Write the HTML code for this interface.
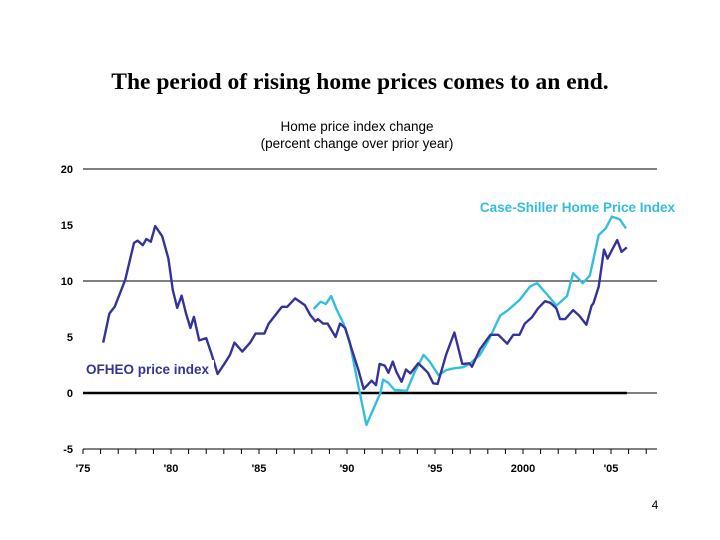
<!DOCTYPE html>
<html><head><meta charset="utf-8"><style>
html,body{margin:0;padding:0;background:#fff;}
svg{display:block;font-family:"Liberation Sans",Arial,sans-serif;}
</style></head><body>
<svg id="chart" width="720" height="540" viewBox="0 0 720 540" xmlns="http://www.w3.org/2000/svg">
<text x="360" y="89" text-anchor="middle" font-family="'Liberation Serif',serif" font-size="23.5" font-weight="bold" fill="#000">The period of rising home prices comes to an end.</text>
<text x="357" y="131" text-anchor="middle" font-size="13.5" fill="#000">Home price index change</text>
<text x="357" y="148" text-anchor="middle" font-size="13.5" fill="#000">(percent change over prior year)</text>
<g id="grid"></g>
<g id="axes"></g>
<g id="series"></g>
<text x="675" y="212" text-anchor="end" font-size="13.5" font-weight="bold" fill="#33bfdc">Case-Shiller Home Price Index</text>
<rect x="84" y="360" width="130" height="17" fill="#fff"/>
<text x="86" y="374" font-size="13.5" font-weight="bold" fill="#333399">OFHEO price index</text>
<text x="655" y="509" text-anchor="middle" font-size="12" fill="#000">4</text>
</svg>
<script>
const yTicks=[20,15,10,5,0,-5];
const yTickLabels=["20","15","10","5","0","-5"];
const gridValues=[20,10,0];
const xLabelYears=[1975,1980,1985,1990,1995,2000,2005];
const xLabels=["'75","'80","'85","'90","'95","2000","'05"];
const ofheoYears=[1976.15,1976.5,1976.8,1977.4,1977.9,1978.1,1978.4,1978.6,1978.85,1979.1,1979.5,1979.85,1980.1,1980.35,1980.6,1980.85,1981.1,1981.3,1981.6,1982.0,1982.3,1982.65,1983.05,1983.35,1983.6,1984.05,1984.5,1984.8,1985.3,1985.55,1985.8,1986.3,1986.6,1987.05,1987.6,1987.9,1988.2,1988.35,1988.65,1988.9,1989.35,1989.6,1989.9,1990.25,1990.65,1990.95,1991.4,1991.65,1991.85,1992.15,1992.35,1992.6,1992.8,1993.1,1993.35,1993.6,1994.05,1994.35,1994.6,1994.9,1995.15,1995.65,1996.1,1996.55,1996.95,1997.1,1997.55,1998.15,1998.6,1999.1,1999.45,1999.8,2000.1,2000.5,2000.85,2001.25,2001.55,2001.9,2002.1,2002.4,2002.85,2003.2,2003.6,2003.9,2004.0,2004.3,2004.6,2004.8,2005.35,2005.6,2005.9];
const ofheoValues=[4.5,7.1,7.7,10.1,13.4,13.6,13.2,13.75,13.5,14.9,14.0,12.0,9.2,7.6,8.7,7.1,5.8,6.8,4.7,4.9,3.5,1.7,2.65,3.4,4.5,3.7,4.5,5.3,5.3,6.2,6.7,7.7,7.7,8.45,7.85,7.0,6.4,6.6,6.2,6.2,5.0,6.2,5.8,4.0,2.05,0.35,1.1,0.7,2.6,2.45,1.8,2.8,1.9,1.0,2.1,1.75,2.65,2.2,1.8,0.87,0.8,3.5,5.4,2.6,2.65,2.35,3.9,5.2,5.2,4.4,5.2,5.2,6.2,6.75,7.55,8.2,8.05,7.55,6.6,6.6,7.4,6.9,6.1,7.8,8.0,9.5,12.8,12.0,13.65,12.6,13.0];
const csYears=[1988.1,1988.5,1988.8,1989.1,1989.4,1989.8,1990.15,1990.65,1991.1,1991.9,1992.05,1992.35,1992.7,1993.4,1993.85,1994.35,1994.7,1995.2,1995.65,1996.05,1996.6,1997.0,1997.55,1998.1,1998.7,1999.15,1999.8,2000.4,2000.8,2001.4,2001.9,2002.5,2002.85,2003.4,2003.8,2004.3,2004.7,2005.05,2005.5,2005.85];
const csValues=[7.5,8.15,7.95,8.65,7.5,6.2,4.6,0.6,-2.85,0.0,1.2,0.9,0.27,0.2,1.9,3.4,2.8,1.6,2.05,2.2,2.3,2.65,3.4,4.9,6.9,7.4,8.3,9.5,9.8,8.75,7.8,8.65,10.7,9.8,10.5,14.1,14.7,15.75,15.5,14.7];

const NS="http://www.w3.org/2000/svg";
const X0=83,X1=657,Y0=393,PX_PER_YEAR=17.6,PX_PER_UNIT=11.2;
function xS(yr){return X0+(yr-1975)*PX_PER_YEAR;}
function yS(v){return Y0-v*PX_PER_UNIT;}
function mk(tag,attrs,parent){const e=document.createElementNS(NS,tag);for(const k in attrs)e.setAttribute(k,attrs[k]);parent.appendChild(e);return e;}
const grid=document.getElementById('grid'),axes=document.getElementById('axes'),series=document.getElementById('series');

gridValues.forEach(v=>{
  const l=mk('line',{x1:X0,x2:X1,y1:yS(v),y2:yS(v),stroke:'#000','stroke-width':1},grid);
  
  
});
const zl=mk('line',{x1:X0,x2:xS(2005.9),y1:yS(0),y2:yS(0),stroke:'#000','stroke-width':2.5},grid);



yTicks.forEach((v,i)=>{
  const t=mk('text',{x:73,y:yS(v)+4,'text-anchor':'end','font-size':11,'font-weight':'bold',fill:'#000'},axes);
  t.textContent=yTickLabels[i];
  
  
});
const ax=mk('line',{x1:X0,x2:X1,y1:yS(-5),y2:yS(-5),stroke:'#000','stroke-width':1},axes);


for(let yr=1975;yr<=2007;yr++){
  const tk=mk('line',{x1:xS(yr),x2:xS(yr),y1:yS(-5),y2:yS(-5)+5,stroke:'#000','stroke-width':1},axes);
  
  
}
xLabelYears.forEach((yr,i)=>{
  const t=mk('text',{x:xS(yr),y:472,'text-anchor':'middle','font-size':11,'font-weight':'bold',fill:'#000'},axes);
  t.textContent=xLabels[i];
  
  
});
function line(xs,vs,color,name){
  const d=xs.map((x,i)=>(i?'L':'M')+xS(x).toFixed(1)+','+yS(vs[i]).toFixed(1)).join('');
  const p=mk('path',{d:d,fill:'none',stroke:color,'stroke-width':2.4,'stroke-linejoin':'round'},series);
  
  
}
line(csYears,csValues,'#33bfdc','case-shiller-line');
line(ofheoYears,ofheoValues,'#333399','ofheo-line');
</script>
</body></html>
